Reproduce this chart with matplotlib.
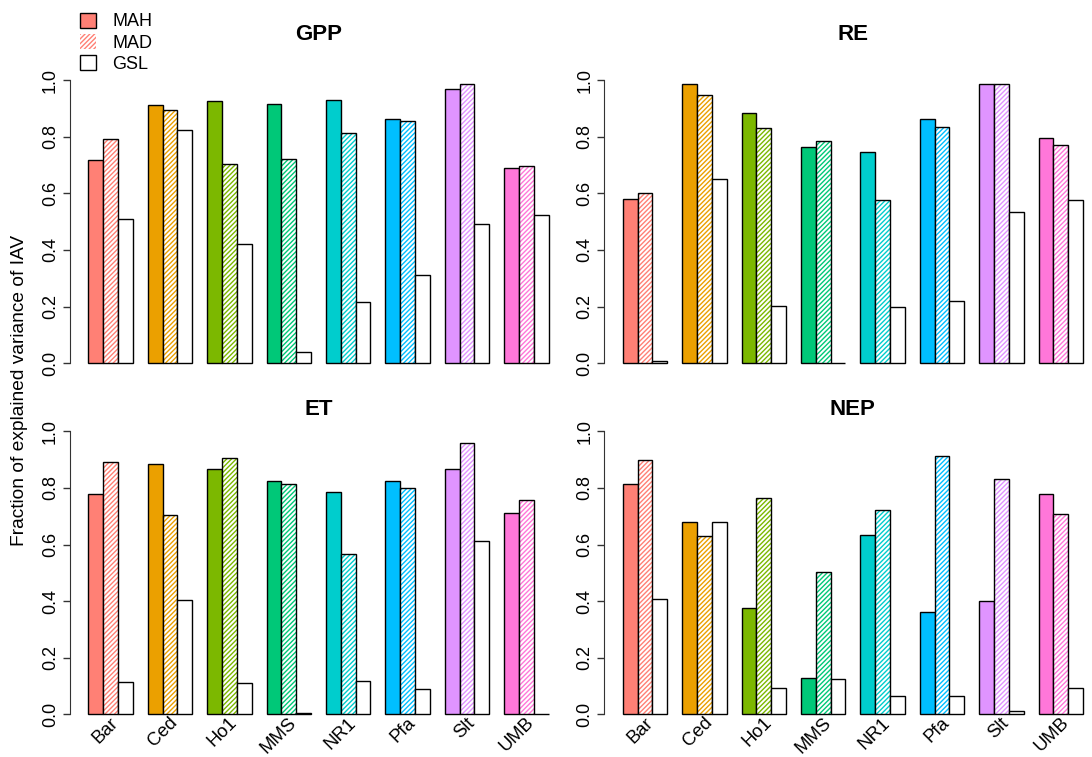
import numpy as np
import matplotlib.pyplot as plt
from matplotlib.patches import Patch

plt.rcParams['font.family'] = ['Liberation Sans', 'DejaVu Sans']

sites = ['Bar', 'Ced', 'Ho1', 'MMS', 'NR1', 'Pfa', 'Slt', 'UMB']
site_colors = ['#FF8075', '#EBA000', '#7CB800', '#00C878',
               '#00CDCD', '#00BFFF', '#E094FF', '#FF77D9']

# explained variance fractions per flux: MAH, MAD, GSL
gpp_mah = [0.718, 0.912, 0.925, 0.915, 0.930, 0.862, 0.970, 0.690]
gpp_mad = [0.791, 0.893, 0.702, 0.720, 0.812, 0.855, 0.985, 0.697]
gpp_gsl = [0.508, 0.823, 0.420, 0.039, 0.215, 0.310, 0.490, 0.523]

re_mah = [0.580, 0.986, 0.885, 0.765, 0.745, 0.862, 0.985, 0.795]
re_mad = [0.602, 0.947, 0.832, 0.785, 0.578, 0.835, 0.985, 0.770]
re_gsl = [0.008, 0.652, 0.202, 0.002, 0.200, 0.220, 0.535, 0.575]

et_mah = [0.780, 0.885, 0.868, 0.825, 0.787, 0.823, 0.868, 0.712]
et_mad = [0.890, 0.703, 0.905, 0.815, 0.567, 0.800, 0.960, 0.757]
et_gsl = [0.113, 0.405, 0.110, 0.005, 0.117, 0.090, 0.612, 0.000]

nep_mah = [0.815, 0.678, 0.375, 0.130, 0.634, 0.363, 0.400, 0.780]
nep_mad = [0.898, 0.632, 0.765, 0.502, 0.723, 0.912, 0.831, 0.709]
nep_gsl = [0.407, 0.680, 0.095, 0.125, 0.064, 0.066, 0.014, 0.093]

panels = [
    ('GPP', gpp_mah, gpp_mad, gpp_gsl),
    ('RE', re_mah, re_mad, re_gsl),
    ('ET', et_mah, et_mad, et_gsl),
    ('NEP', nep_mah, nep_mad, nep_gsl),
]

W, H = 1092, 757
fig = plt.figure(figsize=(W / 100, H / 100), dpi=100)

# pixel boxes (left, top) for each panel, R-style usr extension of 4%
unit = 14.85
ax_w = 33.48 * unit
lefts = [69.9, 604.3, 69.9, 604.3]
tops = [68.7, 68.7, 420.0, 420.0]
title_y = [35, 35, 410, 410]
ax_h = 305.8

HATCH = '///////'
group_x = np.arange(len(sites)) * 4 + 1.5  # left edge of first bar per group

for i, (name, mah, mad, gsl) in enumerate(panels):
    l, t = lefts[i], tops[i]
    ax = fig.add_axes([l / W, 1 - (t + ax_h) / H, ax_w / W, ax_h / H])
    ax.set_xlim(-0.24, 33.24)
    ax.set_ylim(-0.04, 1.04)

    ax.bar(group_x, mah, width=1, color=site_colors, edgecolor='black', linewidth=1.0)
    for x, v, c in zip(group_x + 1, mad, site_colors):
        ax.bar(x, v, width=1, color='white', edgecolor=c, hatch=HATCH, linewidth=0)
        ax.bar(x, v, width=1, fill=False, edgecolor='black', linewidth=1.0)
    ax.bar(group_x + 2, gsl, width=1, color='white', edgecolor='black', linewidth=1.0)

    for s in ['top', 'right', 'bottom']:
        ax.spines[s].set_visible(False)
    ax.spines['left'].set_bounds(0, 1)
    ax.spines['left'].set_color('#333333')
    ax.set_yticks(np.arange(0, 1.01, 0.2))
    ax.set_yticklabels([f'{v:.1f}' for v in np.arange(0, 1.01, 0.2)],
                       rotation=90, va='center', fontsize=13)
    ax.tick_params(axis='y', length=5, width=1, color='#333333', pad=3)
    ax.set_xticks([])

    fig.text((l + 18.4 + 15.5 * unit) / W, 1 - title_y[i] / H, name,
             ha='center', va='center', fontsize=16, fontweight='bold')

    if i >= 2:
        for x, s in zip(group_x + 1.5, sites):
            ax.annotate(s, xy=(x, 0), xycoords='data', xytext=(-1.6, -4.2),
                        textcoords='offset points', rotation=45,
                        ha='right', va='center', rotation_mode='anchor',
                        fontsize=13.3, annotation_clip=False)

fig.text(20 / W, 1 - 390 / H, 'Fraction of explained variance of IAV',
         rotation=90, ha='center', va='center', fontsize=13.8)

handles = [
    Patch(facecolor=site_colors[0], edgecolor='black', linewidth=1.0),
    Patch(facecolor='white', edgecolor=site_colors[0], hatch=HATCH, linewidth=0),
    Patch(facecolor='white', edgecolor='black', linewidth=1.0),
]
fig.legend(handles, ['MAH', 'MAD', 'GSL'], loc='upper left',
           bbox_to_anchor=(67 / W, 1 - 0 / H), frameon=False, fontsize=13,
           handlelength=0.9, handleheight=0.9, handletextpad=0.9,
           labelspacing=0.2, borderpad=0.2)

fig.savefig('out.png', dpi=100)
